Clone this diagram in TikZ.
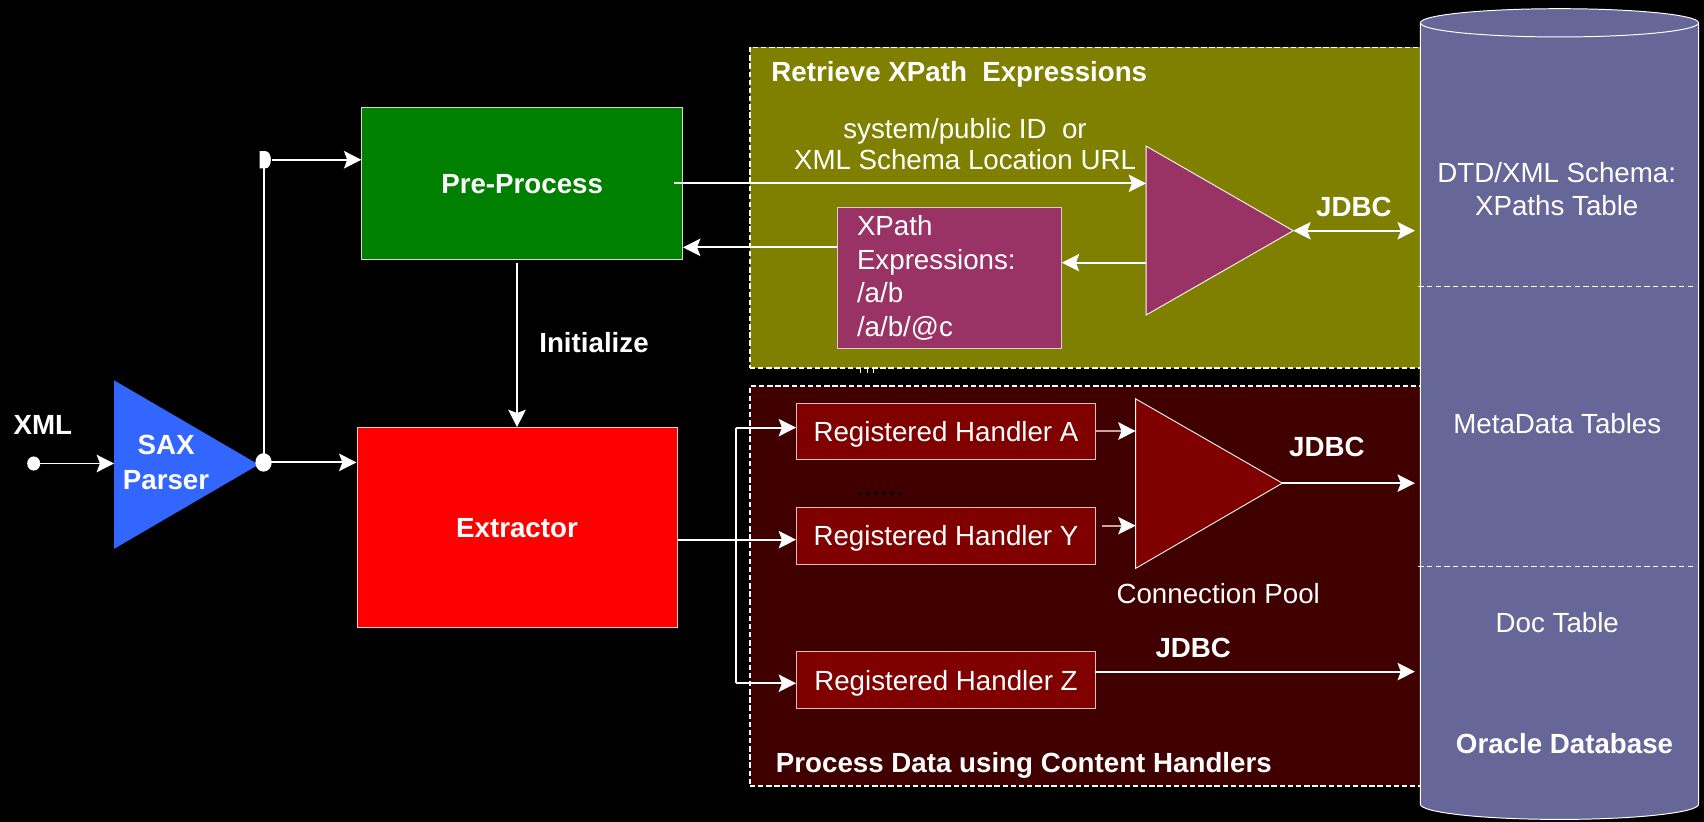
\documentclass[tikz,border=0pt]{standalone}
\usepackage{fontspec}
\setmainfont{Liberation Sans}
\usetikzlibrary{arrows.meta,calc}

\definecolor{olivebg}{RGB}{128,128,0}
\definecolor{maroonbg}{RGB}{64,0,0}
\definecolor{maroonbox}{RGB}{128,0,0}
\definecolor{plum}{RGB}{153,51,102}
\definecolor{saxblue}{RGB}{51,102,255}
\definecolor{dbblue}{RGB}{102,102,153}
\definecolor{greenbox}{RGB}{0,128,0}
\definecolor{rim}{RGB}{215,215,215}
\definecolor{feed}{RGB}{200,165,165}

\begin{document}
\begin{tikzpicture}[x=1pt,y=-1pt,
  every node/.style={inner sep=0pt, text=white, font=\fontsize{25.5}{31}\selectfont},
  txt/.style={text height=18.3pt, text depth=0pt},
  btxt/.style={txt, font=\fontsize{25.5}{31}\selectfont\bfseries},
  block/.style={draw=rim, line width=0.9pt},
  panelbox/.style={draw=white, line width=1.3pt, dash pattern=on 5pt off 2.5pt},
  wire/.style={draw=white, line width=1.8pt},
  tipend/.style={-{Stealth[length=16pt,width=16pt,inset=3pt]}},
  tipboth/.style={{Stealth[length=16pt,width=16pt,inset=3pt]}-{Stealth[length=16pt,width=16pt,inset=3pt]}},
  arr/.style={wire, tipend},
  feedarr/.style={draw=feed, line width=1.8pt, -{Stealth[length=16pt,width=16pt,inset=3pt,color=white]}},
  tri/.style={draw=white, line width=0.8pt},
]
% canvas
\fill[black] (0,0) rectangle (1568,756);
\useasboundingbox (0,0) rectangle (1568,756);

% ---------- dashed group panels ----------
\node[panelbox, fill=olivebg, minimum width=640pt, minimum height=295.2pt] (retrieve) at (1010,191.1) {};
\node[panelbox, fill=maroonbg, minimum width=640pt, minimum height=368.4pt] (process) at (1010,539.2) {};
\node[btxt, anchor=west] (retrieveTitle) at (709.6,66) {Retrieve XPath\ \ Expressions};
\node[btxt, anchor=west] (processTitle) at (713.8,702) {Process Data using Content Handlers};
\foreach \tx in {792,798,804} \draw[white, line width=1.2pt] (\tx,339.5) -- (\tx,343);

% ---------- database cylinder ----------
\fill[dbblue] (1307,21) -- (1307,740)
  .. controls (1307,747.7) and (1364.3,754) .. (1435,754)
  .. controls (1505.7,754) and (1563,747.7) .. (1563,740) -- (1563,21) -- cycle;
\draw[white, line width=0.9pt] (1307,21) -- (1307,740)
  .. controls (1307,747.7) and (1364.3,754) .. (1435,754)
  .. controls (1505.7,754) and (1563,747.7) .. (1563,740) -- (1563,21);
\draw[white, line width=0.9pt, fill=dbblue] (1435,21) ellipse [x radius=128, y radius=13];
\draw[white, line width=1pt, dash pattern=on 5pt off 3pt] (1305,264) -- (1561,264);
\draw[white, line width=1pt, dash pattern=on 5pt off 3pt] (1305,521) -- (1561,521);
\node[txt] (dbXp1) at (1432.5,159) {DTD/XML Schema:};
\node[txt] (dbXp2) at (1432.5,189) {XPaths Table};
\node[txt] (dbMeta) at (1433,390) {MetaData Tables};
\node[txt] (dbDoc) at (1433,573) {Doc Table};
\node[btxt] (dbName) at (1439.7,684) {Oracle Database};
\coordinate (db1) at (1302,212.3);
\coordinate (db2) at (1302,444.6);
\coordinate (db3) at (1302,618);

% ---------- input and SAX parser ----------
\node[btxt] (xmlLbl) at (39.5,391) {XML};
\coordinate (pin) at (31,426.5);
\fill[white] (pin) ellipse [x radius=6, y radius=6.5];
\coordinate (saxT) at (105,350);
\coordinate (saxB) at (105,505);
\coordinate (saxA) at (238,427.5);
\fill[saxblue] (saxT) -- (saxA) -- (saxB) -- cycle;
\node[btxt] (saxL1) at (152.8,409.5) {SAX};
\node[btxt] (saxL2) at (152.8,441) {Parser};
\draw[arr] (pin) -- (saxT |- pin);

% ---------- pre-process and extractor ----------
\node[block, fill=greenbox, minimum width=295pt, minimum height=140pt, btxt] (pre) at (480.5,169) {Pre-Process};
\node[block, fill=red, draw={rgb,255:red,240;green,200;blue,200}, minimum width=294.5pt, minimum height=184pt, btxt] (ext) at (475.75,485.5) {Extractor};

\coordinate (jn) at (242.5,425.5);
\coordinate (tap) at (242.5,147);
\draw[wire] (jn) -- (tap);
\fill[white] (jn) ellipse [x radius=7.5, y radius=8.5];
\fill[white] (239,139) -- (244,139) .. controls (251,139) and (251,155) .. (244,155) -- (239,155) -- cycle;
\draw[arr] ([xshift=8pt]tap) -- (pre.west |- tap);
\draw[arr] (jn) -- (ext.west |- jn);

\draw[arr] ([yshift=-3pt]ext.north |- pre.south) -- (ext.north);
\node[btxt] (initLbl) at (546.6,315.3) {Initialize};

% ---------- XPath retrieval ----------
\coordinate (magT) at (1054.6,134.4);
\coordinate (magB) at (1054.6,289.9);
\coordinate (magA) at (1190,212.3);
\fill[plum, tri] (magT) -- (magA) -- (magB) -- cycle;

\node[block, fill=plum, draw={rgb,255:red,225;green,200;blue,210}, minimum width=206pt, minimum height=129.7pt,
      text width=170pt, inner xsep=18pt, align=left] (xp) at (873.6,255.6)
  {XPath\\Expressions:\\/a/b\\/a/b/@c};

\node[txt] (idLbl1) at (888,118) {system/public ID\ \ or};
\node[txt] (idLbl2) at (888,147) {XML Schema Location URL};

\coordinate (preOut) at (620,168.7);
\coordinate (magIn) at (1054.6,241.7);
\coordinate (xpOut) at (770.5,227.6);
\draw[arr] (preOut) -- (magT |- preOut);
\draw[arr] (magIn) -- (xp.east |- magIn);
\draw[arr] (xpOut) -- (pre.east |- xpOut);
\draw[wire, tipboth] (magA) -- (db1);
\node[btxt] (jdbc1) at (1245.8,190) {JDBC};

% ---------- content handlers ----------
\node[block, fill=maroonbox, draw={rgb,255:red,220;green,190;blue,190}, minimum width=275pt, minimum height=52pt, txt] (hA) at (870.5,397) {Registered Handler A};
\node[block, fill=maroonbox, draw={rgb,255:red,220;green,190;blue,190}, minimum width=275pt, minimum height=52pt, txt] (hY) at (870.5,493) {Registered Handler Y};
\node[block, fill=maroonbox, draw={rgb,255:red,220;green,190;blue,190}, minimum width=275pt, minimum height=52pt, txt] (hZ) at (870.5,625.8) {Registered Handler Z};
\node[txt, text=black] (gapDots) at (810,447) {......};

\coordinate (fork) at (677,496.6);
\coordinate (forkA) at (677,393.5);
\coordinate (forkZ) at (677,628.7);
\draw[wire] (ext.east |- fork) -- (fork);
\draw[wire] (forkA) -- (forkZ);
\draw[arr] (fork) -- (hY.west |- fork);
\draw[arr] (forkA) -- (hA.west |- forkA);
\draw[arr] (forkZ) -- (hZ.west |- forkZ);

\coordinate (poolT) at (1045,367);
\coordinate (poolB) at (1045,523);
\coordinate (poolA) at (1180,444.6);
\fill[maroonbox, tri] (poolT) -- (poolA) -- (poolB) -- cycle;
\node[txt] (poolLbl) at (1121,546.6) {Connection Pool};

\coordinate (aOut) at (1008.6,396.6);
\coordinate (yOut) at (1013.7,483.7);
\coordinate (zOut) at (1008,618);
\draw[feedarr] (aOut) -- (poolT |- aOut);
\draw[feedarr] (yOut) -- (poolT |- yOut);
\draw[arr] (poolA) -- (db2);
\draw[arr] (zOut) -- (db3);
\node[btxt] (jdbc2) at (1221,411) {JDBC};
\node[btxt] (jdbc3) at (1098,596) {JDBC};
\end{tikzpicture}
\end{document}
